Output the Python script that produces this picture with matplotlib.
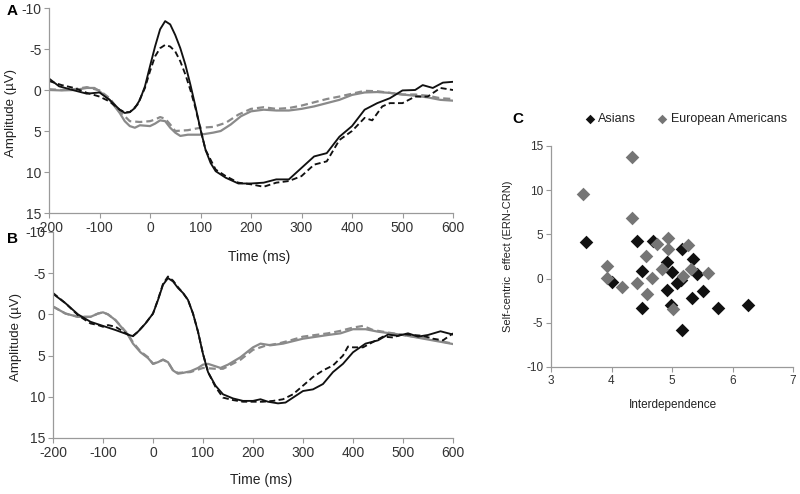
import matplotlib
matplotlib.use("Agg")
import matplotlib.pyplot as plt

plt.rcParams['font.family'] = ['Liberation Sans', 'DejaVu Sans']
plt.rcParams['axes.unicode_minus'] = False

# ---------------- Panel A data ----------------
a_black_solid_t = [-200, -180, -150, -125, -100, -80, -60, -50, -40, -30, -20, -10, 0, 10, 20, 30, 40, 50, 60, 70, 80, 90,
                   100, 110, 120, 130, 150, 175, 200, 225, 250, 275, 300, 325, 350, 375, 400, 425, 450, 475, 500, 525,
                   540, 560, 580, 600]
a_black_solid_v = [-1.4, -0.45, 0.05, 0.45, 0.3, 1.2, 2.4, 2.8, 2.7, 2.2, 1.2, -0.45, -2.9, -5.3, -7.4, -8.4, -8.0, -6.7,
                   -5.1, -3.1, -0.65, 2.0, 4.8, 7.3, 8.9, 9.9, 10.7, 11.4, 11.4, 11.3, 10.9, 10.9, 9.5, 8.1, 7.7, 5.7,
                   4.4, 2.4, 1.6, 1.0, 0.05, 0.0, -0.6, -0.25, -0.9, -1.0]

a_black_dash_t = [-200, -175, -150, -125, -100, -80, -60, -50, -40, -25, -10, 0, 10, 20, 30, 40, 50, 60, 70, 80, 90, 100,
                  110, 130, 150, 175, 200, 225, 250, 275, 300, 325, 350, 375, 400, 425, 440, 460, 475, 500, 525, 550,
                  575, 600]
a_black_dash_v = [-1.1, -0.6, -0.25, 0.35, 0.8, 1.4, 2.4, 2.7, 2.7, 1.8, -0.25, -2.3, -4.1, -5.1, -5.5, -5.3, -4.7, -3.5,
                  -1.9, 0.0, 2.2, 4.8, 7.3, 9.7, 10.5, 11.3, 11.5, 11.8, 11.3, 11.1, 10.5, 9.1, 8.7, 6.1, 5.0, 3.4, 3.7,
                  2.0, 1.6, 1.6, 0.8, 0.8, -0.25, 0.0]

a_grey_solid_t = [-200, -175, -150, -125, -110, -100, -80, -60, -50, -40, -30, -20, -10, 0, 10, 20, 30, 40, 50, 60, 75,
                  100, 125, 140, 160, 180, 200, 225, 250, 275, 300, 325, 350, 375, 400, 425, 450, 475, 500, 525, 550,
                  575, 600]
a_grey_solid_v = [0.0, 0.05, 0.0, -0.25, -0.25, 0.15, 1.2, 2.8, 3.8, 4.4, 4.6, 4.3, 4.35, 4.4, 4.1, 3.7, 3.8, 4.6, 5.2,
                  5.6, 5.45, 5.45, 5.2, 5.0, 4.2, 3.2, 2.6, 2.4, 2.5, 2.5, 2.3, 2.0, 1.6, 1.2, 0.6, 0.3, 0.25, 0.35,
                  0.55, 0.7, 0.9, 1.2, 1.3]

a_grey_dash_t = [-200, -175, -150, -125, -100, -80, -60, -50, -40, -20, 0, 10, 20, 30, 40, 50, 75, 100, 125, 150, 175,
                 200, 225, 250, 275, 300, 325, 350, 375, 400, 425, 450, 475, 500, 525, 550, 575, 600]
a_grey_dash_v = [-0.1, 0.0, -0.1, -0.35, 0.05, 1.0, 2.6, 3.2, 3.8, 3.9, 3.8, 3.6, 3.3, 3.5, 4.2, 5.0, 4.9, 4.6, 4.5,
                 4.0, 3.0, 2.3, 2.1, 2.3, 2.2, 1.9, 1.5, 1.1, 0.8, 0.45, 0.1, 0.15, 0.35, 0.55, 0.55, 0.7, 1.0, 1.1]

# ---------------- Panel B data ----------------
b_black_solid_t = [-200, -175, -150, -125, -100, -75, -50, -40, -30, -15, 0, 10, 20, 30, 40, 50, 60, 70, 80, 90, 100,
                   110, 125, 140, 160, 180, 200, 215, 230, 250, 265, 280, 300, 320, 340, 360, 380, 400, 425, 450, 470,
                   490, 510, 530, 550, 575, 600]
b_black_solid_v = [-2.5, -1.35, 0.0, 0.9, 1.4, 1.9, 2.45, 2.65, 2.1, 1.1, -0.1, -1.75, -3.6, -4.4, -4.0, -3.2, -2.6,
                   -1.75, -0.1, 2.1, 4.8, 7.0, 8.65, 9.7, 10.2, 10.5, 10.5, 10.3, 10.6, 10.8, 10.7, 10.1, 9.3, 9.1, 8.45,
                   7.0, 6.0, 4.6, 3.55, 3.15, 2.45, 2.6, 2.3, 2.7, 2.5, 2.05, 2.45]

b_black_dash_t = [-200, -175, -150, -125, -110, -100, -90, -75, -50, -40, -30, -15, 0, 10, 20, 30, 40, 50, 60, 70, 80,
                  90, 100, 110, 125, 140, 160, 180, 200, 220, 240, 260, 280, 300, 320, 340, 360, 380, 390, 400, 420,
                  440, 460, 480, 500, 520, 540, 560, 580, 600]
b_black_dash_v = [-2.6, -1.35, 0.1, 1.1, 1.3, 1.5, 1.3, 1.5, 2.45, 2.6, 2.1, 1.1, -0.1, -1.8, -3.7, -4.6, -4.1, -3.3,
                  -2.6, -1.75, -0.1, 2.1, 4.8, 7.0, 8.8, 10.1, 10.4, 10.6, 10.6, 10.6, 10.5, 10.3, 9.7, 8.65, 7.6, 6.8,
                  6.2, 5.0, 3.9, 4.0, 4.0, 3.35, 2.7, 2.8, 2.4, 2.5, 2.6, 2.95, 3.15, 2.3]

b_grey_solid_t = [-200, -175, -150, -125, -110, -100, -90, -75, -50, -40, -25, -10, 0, 10, 20, 30, 40, 50, 60, 75, 90,
                  100, 110, 125, 135, 150, 175, 200, 215, 235, 260, 280, 300, 350, 375, 400, 425, 450, 475, 500, 550,
                  600]
b_grey_solid_v = [-0.95, -0.1, 0.3, 0.3, -0.1, -0.25, 0.0, 0.7, 2.5, 3.55, 4.6, 5.3, 6.0, 5.8, 5.5, 5.8, 6.8, 7.2, 7.1,
                  6.9, 6.5, 6.1, 6.0, 6.3, 6.5, 6.1, 5.2, 4.0, 3.55, 3.75, 3.55, 3.25, 2.95, 2.5, 2.3, 1.8, 1.8, 2.1,
                  2.3, 2.5, 3.05, 3.6]

b_grey_dash_t = [-200, -175, -150, -125, -110, -100, -90, -75, -50, -40, -25, -10, 0, 10, 20, 30, 40, 50, 75, 100, 125,
                 140, 150, 175, 200, 225, 250, 275, 300, 325, 350, 375, 400, 420, 440, 460, 500, 550, 600]
b_grey_dash_v = [-0.95, -0.1, 0.3, 0.3, -0.1, -0.25, 0.0, 0.7, 2.4, 3.4, 4.5, 5.2, 6.0, 5.8, 5.5, 5.8, 6.8, 7.1, 7.0,
                 6.5, 6.6, 6.6, 6.3, 5.5, 4.3, 3.8, 3.55, 3.15, 2.7, 2.5, 2.3, 2.0, 1.6, 1.4, 1.9, 2.1, 2.5, 2.95, 3.55]

time_ticks = [-200, -100, 0, 100, 200, 300, 400, 500, 600]
amp_ticks = [-10, -5, 0, 5, 10, 15]

# ---------------- Panel C data ----------------
asians_x = [3.58, 4.01, 4.42, 4.50, 4.50, 4.68, 4.92, 4.91, 5.00, 4.99, 5.09, 5.15, 5.17, 5.17, 5.34, 5.33, 5.42, 5.51,
            5.76, 6.26]
asians_y = [4.1, -0.4, 4.2, 0.85, -3.3, 4.3, 1.9, -1.3, 0.8, -3.0, -0.55, -0.15, 3.3, -5.8, 2.2, -2.2, 0.55, -1.4,
            -3.3, -3.0]
euro_x = [3.53, 4.34, 4.34, 3.92, 3.93, 4.18, 4.42, 4.57, 4.58, 4.67, 4.75, 4.83, 4.93, 4.93, 5.01, 5.18, 5.27, 5.32,
          5.59]
euro_y = [9.6, 13.7, 6.8, 1.4, 0.1, -1.0, -0.45, 2.6, -1.7, 0.1, 3.9, 1.05, 4.6, 3.3, -3.4, 0.25, 3.8, 1.1, 0.6]
c_xticks = [3, 4, 5, 6, 7]
c_yticks = [-10, -5, 0, 5, 10, 15]

BLACK = '#111111'
GREY = '#8a8a8a'
SPINE = '#9a9a9a'
TXT = '#333333'
DASH = (0, (3.2, 1.8))

fig = plt.figure(figsize=(8.0, 4.94), dpi=100)


def style_axes(ax, fs=10):
    for s in ['top', 'right']:
        ax.spines[s].set_visible(False)
    for s in ['left', 'bottom']:
        ax.spines[s].set_color(SPINE)
        ax.spines[s].set_linewidth(0.9)
    ax.tick_params(axis='both', colors=SPINE, labelcolor=TXT, labelsize=fs, length=3.5, width=0.8, pad=2)


def erp_panel(rect, series, xlabel_y, ylabel_x):
    ax = fig.add_axes(rect)
    for t, v, c, ls in series:
        ax.plot(t, v, color=c, linestyle=ls, linewidth=1.35 if c == BLACK else 1.6)
    ax.set_xlim(-200, 600)
    ax.set_ylim(15, -10)
    ax.set_xticks(time_ticks)
    ax.set_yticks(amp_ticks)
    style_axes(ax, 10)
    ax.set_xlabel('Time (ms)', fontsize=10, color='#222222')
    ax.xaxis.set_label_coords(0.52, xlabel_y)
    ax.set_ylabel('Amplitude (µV)', fontsize=9.5, color='#222222')
    ax.yaxis.set_label_coords(ylabel_x, 0.49)
    return ax


axA = erp_panel([0.06125, 0.5688, 0.505, 0.415],
                [(a_grey_solid_t, a_grey_solid_v, GREY, '-'),
                 (a_grey_dash_t, a_grey_dash_v, GREY, DASH),
                 (a_black_dash_t, a_black_dash_v, BLACK, DASH),
                 (a_black_solid_t, a_black_solid_v, BLACK, '-')], -0.18, -0.079)

axB = erp_panel([0.06625, 0.1134, 0.5, 0.417],
                [(b_grey_solid_t, b_grey_solid_v, GREY, '-'),
                 (b_grey_dash_t, b_grey_dash_v, GREY, DASH),
                 (b_black_dash_t, b_black_dash_v, BLACK, DASH),
                 (b_black_solid_t, b_black_solid_v, BLACK, '-')], -0.17, -0.078)
axB.patch.set_alpha(0)

# ---------------- Panel C ----------------
axC = fig.add_axes([0.68875, 0.2571, 0.3025, 0.4474])
axC.scatter(asians_x, asians_y, marker='D', s=48, color=BLACK, linewidths=0, label='Asians', zorder=3)
axC.scatter(euro_x, euro_y, marker='D', s=48, color='#757575', linewidths=0, label='European Americans', zorder=3)
axC.set_xlim(3, 7)
axC.set_ylim(-10, 15)
axC.set_xticks(c_xticks)
axC.set_yticks(c_yticks)
style_axes(axC, 8.5)
axC.set_xlabel('Interdependence', fontsize=8.5, color='#222222')
axC.xaxis.set_label_coords(0.504, -0.145)
axC.set_ylabel('Self-centric  effect (ERN-CRN)', fontsize=8, color='#222222')
axC.yaxis.set_label_coords(-0.157, 0.5)
leg = axC.legend(loc='center', bbox_to_anchor=(0.555, 1.122), ncol=2, frameon=False, fontsize=9,
                 handletextpad=0.15, columnspacing=1.6, markerscale=0.7, handlelength=1.0, borderpad=0)
for txt in leg.get_texts():
    txt.set_color('#222222')

fig.text(7 / 800, 1 - 11 / 494, 'A', fontsize=11, fontweight='bold', va='center', ha='left')
fig.text(7 / 800, 1 - 239 / 494, 'B', fontsize=11, fontweight='bold', va='center', ha='left')
fig.text(512 / 800, 1 - 119 / 494, 'C', fontsize=11, fontweight='bold', va='center', ha='left')

fig.savefig('out.png', dpi=100)
